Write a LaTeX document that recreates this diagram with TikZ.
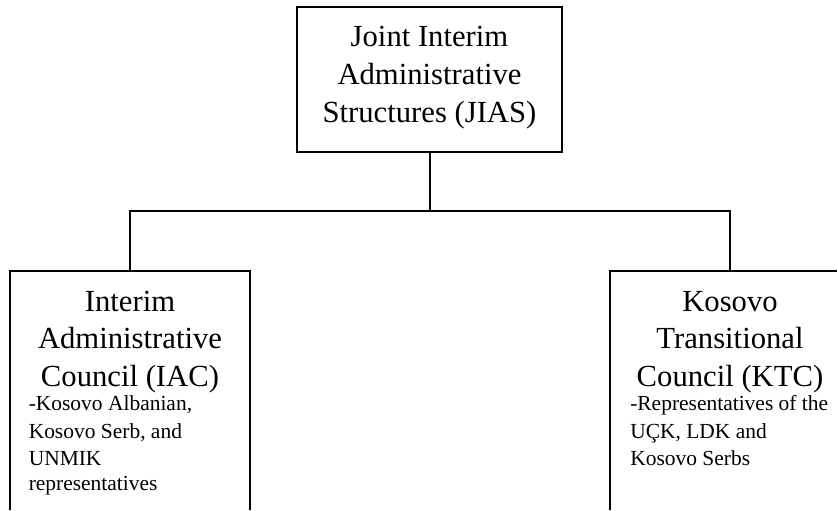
\documentclass[tikz,border=0pt]{standalone}
\usepackage{fontspec}
\setmainfont{Liberation Serif}
\begin{document}
\begin{tikzpicture}[x=0.75pt,y=-0.75pt,
  box/.style={draw=black,line width=1.5pt,rectangle,inner sep=0pt},
  area/.style={rectangle,inner sep=0pt},
  big/.style={inner sep=0pt,anchor=base,font=\fontsize{23}{27}\selectfont},
  small/.style={inner sep=0pt,anchor=base west,font=\fontsize{16.1}{19}\selectfont},
  conn/.style={draw=black,line width=1.5pt}]
\useasboundingbox (0,0) rectangle (838,510);
% boxes (the lower two run past the bottom and right edges of the page)
\node[box,minimum width=198.75pt,minimum height=108.75pt] (jias) at (429.5,79.5) {};
\node[area,minimum width=180pt,minimum height=179.25pt] (iac) at (130,390.5) {};
\node[area,minimum width=170.25pt,minimum height=179.25pt] (ktc) at (723.5,390.5) {};
\draw[conn] (iac.south west) -- (iac.north west) -- (iac.north east) -- (iac.south east);
\draw[conn] (ktc.north east) -- (ktc.north west) -- (ktc.south west);
% connectors
\coordinate (bus) at (430,211);
\draw[conn] (jias.south -| bus) -- (bus);
\draw[conn] (bus) -| (iac.north);
\draw[conn] (bus) -| ([xshift=90pt]ktc.north west);
% top text
\node[big] (j1) at (429.5,46.7) {Joint Interim};
\node[big] (j2) at (429.5,84.5) {Administrative};
\node[big] (j3) at (429.5,122.5) {Structures (JIAS)};
% left text
\node[big] (i1) at (130,311) {Interim};
\node[big] (i2) at (130,348.5) {Administrative};
\node[big] (i3) at (130,386) {Council (IAC)};
\node[small] (i4) at (28.5,410.7) {-Kosovo Albanian,};
\node[small] (i5) at (28.5,438) {Kosovo Serb, and};
\node[small] (i6) at (28.5,465) {UNMIK};
\node[small] (i7) at (28.5,490.5) {representatives};
% right text
\node[big] (k1) at (730,311) {Kosovo};
\node[big] (k2) at (730,348.5) {Transitional};
\node[big] (k3) at (730,386) {Council (KTC)};
\node[small] (k4) at (630,410.7) {-Representatives of the};
\node[small] (k5) at (630,438) {UÇK, LDK and};
\node[small] (k6) at (630,465) {Kosovo Serbs};
\end{tikzpicture}
\end{document}
